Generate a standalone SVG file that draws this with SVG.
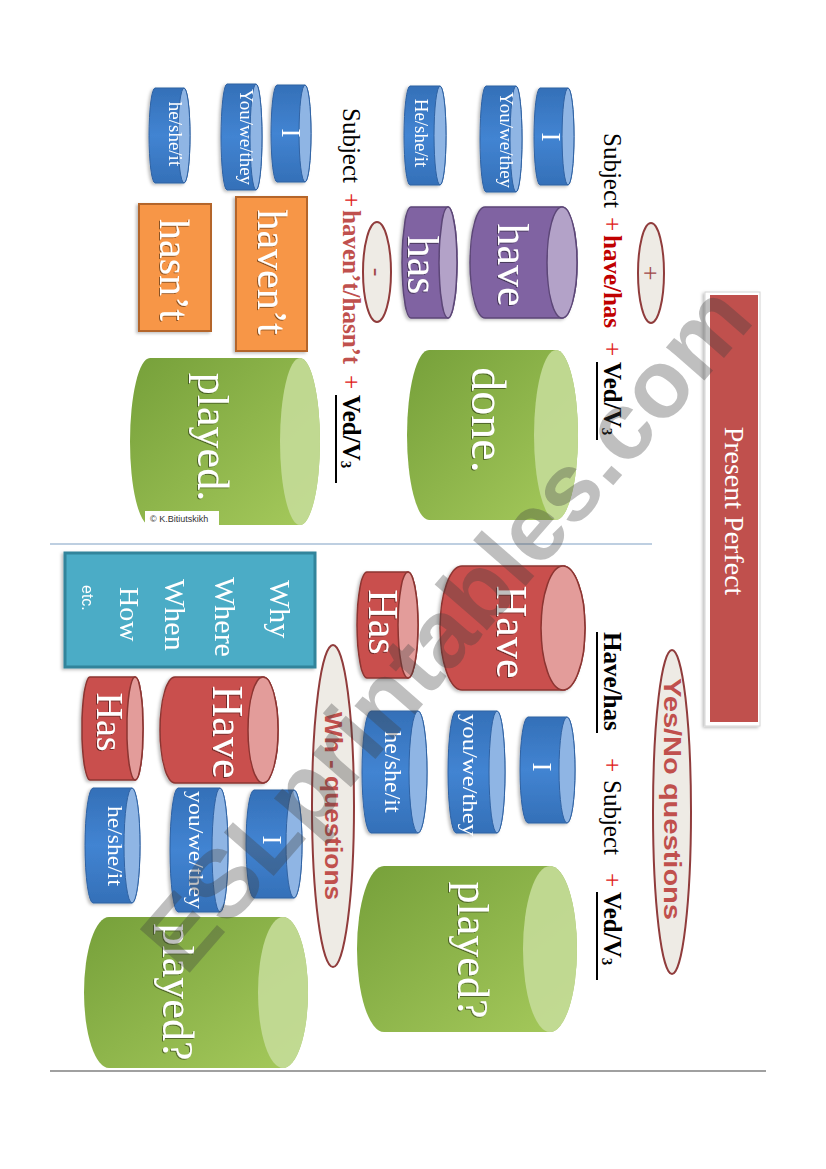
<svg xmlns="http://www.w3.org/2000/svg" width="826" height="1169" viewBox="0 0 826 1169">
<defs>
<style>
.serif{font-family:"Liberation Serif","Times New Roman",serif}
.sans{font-family:"Liberation Sans",Arial,sans-serif}
.wt{fill:#fff;text-anchor:middle;font-family:"Liberation Serif","Times New Roman",serif}
.wts{fill:#fff;font-family:"Liberation Serif","Times New Roman",serif}
.blue{fill:url(#gBlue);stroke:#2f62a3;stroke-width:1}
.blueF{fill:#8fb5e4;stroke:#2f62a3;stroke-width:1}
.purple{fill:#8064a2;stroke:#5c4677;stroke-width:1.5}
.purpleF{fill:#b3a2c8;stroke:#5c4677;stroke-width:1.5}
.red{fill:#c9504d;stroke:#8c3431;stroke-width:1.5}
.redF{fill:#e39c9a;stroke:#8c3431;stroke-width:1.5}
.green{fill:url(#gGreen)}
.greenF{fill:#c4dc98;opacity:0.9}
.oval{fill:#eeebe5;stroke:#903c3c;stroke-width:2}
.orange{fill:#f79646;stroke:#b4652c;stroke-width:2}
.plus{fill:#e02020}
.under{stroke:#000;stroke-width:2}
.ovtxt{font-family:"Liberation Sans",Arial,sans-serif;font-weight:bold;fill:#c0504d;text-anchor:middle}
</style>
<linearGradient id="gBlue" x1="0" y1="0" x2="1" y2="0">
<stop offset="0" stop-color="#3470b8"/>
<stop offset="0.5" stop-color="#4284d2"/>
<stop offset="1" stop-color="#3470b8"/>
</linearGradient>
<linearGradient id="gGreen" x1="0" y1="1" x2="1" y2="0">
<stop offset="0" stop-color="#76a03a"/>
<stop offset="1" stop-color="#a6ca5c"/>
</linearGradient>
<filter id="sh" x="-10%" y="-10%" width="130%" height="130%">
<feDropShadow dx="1.5" dy="2" stdDeviation="1.5" flood-color="#000" flood-opacity="0.25"/>
</filter>
<filter id="ts" x="-10%" y="-20%" width="130%" height="150%">
<feDropShadow dx="1" dy="1" stdDeviation="0.6" flood-color="#000" flood-opacity="0.45"/>
</filter>
</defs>
<rect x="0" y="0" width="826" height="1169" fill="#fff"/>

<g id="connectors">
<line x1="50" y1="544" x2="652" y2="544" stroke="#7f9fc4" stroke-width="1.2"/>
<line x1="50" y1="1071" x2="766" y2="1071" stroke="#a0a0a0" stroke-width="2"/>
</g>

<g transform="translate(826 0) rotate(90)">

<g id="title">
<rect x="292" y="66" width="434" height="55" fill="#fff" stroke="#d4d4d4" stroke-width="1" filter="url(#sh)"/>
<rect x="295" y="68" width="427" height="48" fill="#c0504d"/>
<text class="wt" x="511" y="101" font-size="28">Present Perfect</text>
</g>

<!-- Affirmative -->
<g id="plus-oval">
<ellipse class="oval" cx="273" cy="175" rx="50" ry="13"/>
<text x="273" y="184" font-size="26" fill="#a04848" text-anchor="middle" class="serif">+</text>
</g>
<g id="formula-affirmative">
<text class="serif" y="222" font-size="25">
<tspan x="133">Subject</tspan>
<tspan x="217" class="plus">+</tspan>
<tspan x="235" font-weight="bold" fill="#c00000">have/has</tspan>
<tspan x="342" class="plus">+</tspan>
<tspan x="362" font-weight="bold">Ved/V</tspan><tspan font-size="15" font-weight="bold" dy="2">3</tspan>
</text>
<line class="under" x1="362" y1="229" x2="440" y2="229"/>
</g>

<g id="aff-I" filter="url(#sh)">
<path class="blue" d="M88 258V286A48.5 6 0 0 0 185 286V258A48.5 6 0 0 0 88 258Z"/>
<ellipse class="blueF" cx="136.5" cy="258" rx="48.5" ry="6"/>
<text class="wt" x="137" y="284" font-size="27">I</text>
</g>
<g id="aff-you" filter="url(#sh)">
<path class="blue" d="M86 310V340A53 6 0 0 0 192 340V310A53 6 0 0 0 86 310Z"/>
<ellipse class="blueF" cx="139" cy="310" rx="53" ry="6"/>
<text class="wt" x="140" y="326" font-size="19">You/we/they</text>
</g>
<g id="aff-he" filter="url(#sh)">
<path class="blue" d="M86 386V416A49.5 6 0 0 0 185 416V386A49.5 6 0 0 0 86 386Z"/>
<ellipse class="blueF" cx="135.5" cy="386" rx="49.5" ry="6"/>
<text class="wt" x="133" y="411" font-size="19">He/she/it</text>
</g>
<g id="aff-have" filter="url(#sh)">
<path class="purple" d="M207 264V341A55.5 15 0 0 0 318 341V264A55.5 15 0 0 0 207 264Z"/>
<ellipse class="purpleF" cx="262.5" cy="264" rx="55.5" ry="15"/>
<text class="wt" x="265" y="328" font-size="44" filter="url(#ts)">have</text>
</g>
<g id="aff-has" filter="url(#sh)">
<path class="purple" d="M207 378V415A55.5 9 0 0 0 318 415V378A55.5 9 0 0 0 207 378Z"/>
<ellipse class="purpleF" cx="262.5" cy="378" rx="55.5" ry="9"/>
<text class="wt" x="265" y="418" font-size="44" filter="url(#ts)">has</text>
</g>
<g id="aff-done">
<path class="green" d="M350 270V397A85 22 0 0 0 520 397V270A85 22 0 0 0 350 270Z"/>
<ellipse class="greenF" cx="435" cy="270" rx="85" ry="22"/>
<text class="wt" x="420" y="354" font-size="48" filter="url(#ts)">done.</text>
</g>

<!-- Negative -->
<g id="minus-oval">
<ellipse class="oval" cx="272" cy="449" rx="50" ry="14"/>
<text x="272" y="457" font-size="26" fill="#a04848" text-anchor="middle" class="serif">-</text>
</g>
<g id="formula-negative">
<text class="serif" y="483" font-size="25">
<tspan x="108">Subject</tspan>
<tspan x="193" class="plus">+</tspan>
<tspan x="210" font-weight="bold" fill="#c0504d">haven’t/hasn’t</tspan>
<tspan x="375" class="plus">+</tspan>
<tspan x="395" font-weight="bold">Ved/V</tspan><tspan font-size="15" font-weight="bold" dy="2">3</tspan>
</text>
<line class="under" x1="395" y1="490" x2="483" y2="490"/>
</g>
<g id="neg-I" filter="url(#sh)">
<path class="blue" d="M85 521V549A48.5 6 0 0 0 182 549V521A48.5 6 0 0 0 85 521Z"/>
<ellipse class="blueF" cx="133.5" cy="521" rx="48.5" ry="6"/>
<text class="wt" x="133" y="544" font-size="27">I</text>
</g>
<g id="neg-you" filter="url(#sh)">
<path class="blue" d="M84 570V599A53 6 0 0 0 190 599V570A53 6 0 0 0 84 570Z"/>
<ellipse class="blueF" cx="137" cy="570" rx="53" ry="6"/>
<text class="wt" x="137" y="586" font-size="19">You/we/they</text>
</g>
<g id="neg-he" filter="url(#sh)">
<path class="blue" d="M88 642V671A47.5 6 0 0 0 183 671V642A47.5 6 0 0 0 88 642Z"/>
<ellipse class="blueF" cx="135.5" cy="642" rx="47.5" ry="6"/>
<text class="wt" x="134" y="657" font-size="19">he/she/it</text>
</g>
<g id="neg-havent" filter="url(#sh)">
<rect class="orange" x="197" y="519" width="154" height="71"/>
<text class="wt" x="272" y="568" font-size="42" filter="url(#ts)">haven’t</text>
</g>
<g id="neg-hasnt" filter="url(#sh)">
<rect class="orange" x="204" y="615" width="127" height="72"/>
<text class="wt" x="270" y="666" font-size="42" filter="url(#ts)">hasn’t</text>
</g>
<g id="neg-played">
<path class="green" d="M358 526V676A83.5 20 0 0 0 525 676V526A83.5 20 0 0 0 358 526Z"/>
<ellipse class="greenF" cx="441.5" cy="526" rx="83.5" ry="20"/>
<text class="wt" x="437" y="628" font-size="44" filter="url(#ts)">played.</text>
</g>

<!-- Yes/No questions -->
<g id="yesno-oval">
<ellipse class="oval" cx="812" cy="154" rx="162" ry="19"/>
<text class="ovtxt" x="799" y="162" font-size="23" textLength="242" lengthAdjust="spacingAndGlyphs">Yes/No questions</text>
</g>
<g id="formula-yesno">
<text class="serif" y="222" font-size="25">
<tspan x="632" font-weight="bold">Have/has</tspan>
<tspan x="758" class="plus">+</tspan>
<tspan x="780">Subject</tspan>
<tspan x="873" class="plus">+</tspan>
<tspan x="892" font-weight="bold">Ved/V</tspan><tspan font-size="15" font-weight="bold" dy="2">3</tspan>
</text>
<line class="under" x1="632" y1="229" x2="733" y2="229"/>
<line class="under" x1="892" y1="229" x2="980" y2="229"/>
</g>
<g id="yn-Have" filter="url(#sh)">
<path class="red" d="M566 263V364A62 22 0 0 0 690 364V263A62 22 0 0 0 566 263Z"/>
<ellipse class="redF" cx="628" cy="263" rx="62" ry="22"/>
<text class="wt" x="632" y="329" font-size="44" filter="url(#ts)">Have</text>
</g>
<g id="yn-Has" filter="url(#sh)">
<path class="red" d="M572 418V459A53 10 0 0 0 678 459V418A53 10 0 0 0 572 418Z"/>
<ellipse class="redF" cx="625" cy="418" rx="53" ry="10"/>
<text class="wt" x="622" y="457" font-size="42" filter="url(#ts)">Has</text>
</g>
<g id="yn-I" filter="url(#sh)">
<path class="blue" d="M717 259V298A53 8 0 0 0 823 298V259A53 8 0 0 0 717 259Z"/>
<ellipse class="blueF" cx="770" cy="259" rx="53" ry="8"/>
<text class="wt" x="767" y="293" font-size="27">I</text>
</g>
<g id="yn-you" filter="url(#sh)">
<path class="blue" d="M711 329V370A61 8 0 0 0 833 370V329A61 8 0 0 0 711 329Z"/>
<ellipse class="blueF" cx="772" cy="329" rx="61" ry="8"/>
<text class="wt" x="775" y="363" font-size="22" textLength="122" lengthAdjust="spacingAndGlyphs">you/we/they</text>
</g>
<g id="yn-he" filter="url(#sh)">
<path class="blue" d="M711 408V455A61 9 0 0 0 833 455V408A61 9 0 0 0 711 408Z"/>
<ellipse class="blueF" cx="772" cy="408" rx="61" ry="9"/>
<text class="wt" x="772" y="441" font-size="24">he/she/it</text>
</g>
<g id="yn-played">
<path class="green" d="M866 276V442A83 27 0 0 0 1032 442V276A83 27 0 0 0 866 276Z"/>
<ellipse class="greenF" cx="949" cy="276" rx="83" ry="27"/>
<text class="wt" x="950" y="368" font-size="44" filter="url(#ts)">played?</text>
</g>

<!-- Wh questions -->
<g id="wh-oval">
<ellipse class="oval" cx="806" cy="493" rx="161" ry="21"/>
<text class="ovtxt" x="806" y="501" font-size="24" textLength="188" lengthAdjust="spacingAndGlyphs">Wh - questions</text>
</g>
<g id="wh-words" filter="url(#sh)">
<rect x="553" y="511" width="114" height="250" fill="#4bacc6" stroke="#31849b" stroke-width="3"/>
<text class="wts" x="580" y="556" font-size="30">Why</text>
<text class="wts" x="577" y="611" font-size="30">Where</text>
<text class="wts" x="579" y="661" font-size="30">When</text>
<text class="wts" x="587" y="706" font-size="28">How</text>
<text class="sans" x="585" y="744" font-size="16" fill="#fff">etc.</text>
</g>
<g id="wh-Have" filter="url(#sh)">
<path class="red" d="M677 563V651A53 15 0 0 0 783 651V563A53 15 0 0 0 677 563Z"/>
<ellipse class="redF" cx="730" cy="563" rx="53" ry="15"/>
<text class="wt" x="732" y="613" font-size="44" filter="url(#ts)">Have</text>
</g>
<g id="wh-Has" filter="url(#sh)">
<path class="red" d="M677 691V736A51.5 8 0 0 0 780 736V691A51.5 8 0 0 0 677 691Z"/>
<ellipse class="redF" cx="728.5" cy="691" rx="51.5" ry="8"/>
<text class="wt" x="722" y="729" font-size="38" filter="url(#ts)">Has</text>
</g>
<g id="wh-I" filter="url(#sh)">
<path class="blue" d="M790 532V572A54 8 0 0 0 898 572V532A54 8 0 0 0 790 532Z"/>
<ellipse class="blueF" cx="844" cy="532" rx="54" ry="8"/>
<text class="wt" x="840" y="563" font-size="27">I</text>
</g>
<g id="wh-you" filter="url(#sh)">
<path class="blue" d="M788 606V648A62 8 0 0 0 912 648V606A62 8 0 0 0 788 606Z"/>
<ellipse class="blueF" cx="850" cy="606" rx="62" ry="8"/>
<text class="wt" x="850" y="637" font-size="22" textLength="118" lengthAdjust="spacingAndGlyphs">you/we/they</text>
</g>
<g id="wh-he" filter="url(#sh)">
<path class="blue" d="M788 694V733A57.5 8 0 0 0 903 733V694A57.5 8 0 0 0 788 694Z"/>
<ellipse class="blueF" cx="845.5" cy="694" rx="57.5" ry="8"/>
<text class="wt" x="846" y="718" font-size="22" textLength="80" lengthAdjust="spacingAndGlyphs">he/she/it</text>
</g>
<g id="wh-played">
<path class="green" d="M917 543V717A75.5 25 0 0 0 1068 717V543A75.5 25 0 0 0 917 543Z"/>
<ellipse class="greenF" cx="992.5" cy="543" rx="75.5" ry="25"/>
<text class="wt" x="992" y="663" font-size="44" filter="url(#ts)">played?</text>
</g>
</g>

<g id="credit">
<rect x="145" y="511" width="74" height="15" fill="#fff"/>
<text class="sans" x="150" y="522" font-size="9" fill="#333">© K.Bitiutskikh</text>
</g>

<g id="watermark" transform="translate(445 627) rotate(-49)">
<text class="sans" x="0" y="34" text-anchor="middle" font-size="96" font-weight="bold" fill="#404040" opacity="0.33">ESLprintables.com</text>
</g>
</svg>
